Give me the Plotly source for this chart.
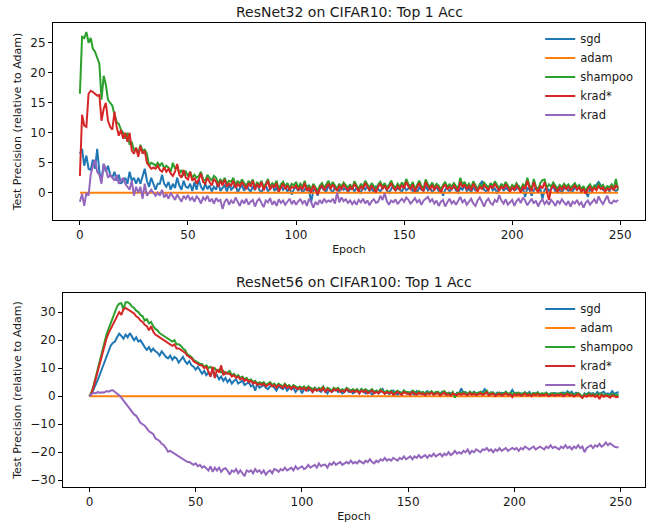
import plotly.graph_objects as go

epochs = list(range(250))

# ---------------- ResNet32 on CIFAR10 ----------------
top_sgd = [
    6.5, 7.3, 4.5, 6.2, 4.0, 3.8, 5.5, 4.0, 7.3, 3.5, 2.0, 4.8, 3.5, 4.5, 3.0, 2.5, 3.5, 2.0, 3.0, 1.5, 2.0, 2.5, 1.5, 3.5, 2.0,
    2.5, 1.5, 2.5, 1.5, 3.0, 4.0, 2.0, 1.0, 2.5, 1.5, 0.5, 1.5, 1.5, 3.0, 1.5, 1.0, 1.8, 0.5, 1.5, 0.8, 2.5, 1.2, 0.5, 2.0, 1.0,
    0.8, 1.5, 0.3, 1.8, 0.5, 2.2, 1.0, 0.4, 1.5, 0.6, 1.2, 0.2, 1.0, 0.5, 1.8, 0.3, 0.8, 1.2, 0.2, 1.4, 0.5, 0.9, 1.6, 0.0, 0.8,
    1.2, 0.3, 1.5, 0.6, 0.2, 1.1, 0.4, 1.6, 0.5, 0.0, 0.9, 1.3, 0.2, 0.7, 1.5, 0.3, 0.8, 0.1, 1.2, 0.5, 1.0, 0.2, 0.8, -0.3, 0.6,
    1.0, 0.3, 0.9, 0.0, 0.5, 1.2, 0.4, -1.5, 0.3, 0.8, -0.5, 0.6, 1.0, 0.4, 0.2, 1.3, 0.5, 0.0, 1.0, 0.6, 0.2, 1.1, 0.5, 0.8, 0.1,
    0.6, 1.0, 0.2, 0.8, 0.4, 0.0, 0.9, 0.5, 1.2, 0.3, 0.7, 0.1, 1.0, 0.5, 0.2, 0.8, 1.1, 0.4, 0.0, 0.6, 1.2, 0.3, 0.8, 0.5, 0.2,
    1.0, 0.4, 0.7, 1.3, 0.2, 0.6, 0.0, 0.9, 0.5, 0.3, 1.2, 0.4, 0.8, 0.1, 0.6, 1.0, 0.3, 0.7, -0.5, 0.5, 0.9, 0.2, 0.6, 1.1, 0.4,
    0.0, 0.8, 0.5, 1.2, 0.3, 0.7, 0.1, 0.9, 0.4, 0.6, 1.0, 2.0, 0.5, 0.2, 0.8, 1.3, 0.4, 0.7, 0.0, 0.6, 1.1, 0.3, 0.8, 0.5, 0.2,
    0.9, 0.4, 0.6, 1.2, 0.3, 0.7, -0.7, 0.8, 0.5, -0.5, 0.4, 1.0, 0.2, 0.7, -1.0, 0.5, 0.9, 0.3, 0.6, 1.1, 0.2, 0.8, 0.4, 0.0, 0.7,
    1.0, 0.3, 0.6, 0.2, 0.9, 0.5, 1.2, 0.1, 0.7, 0.4, -0.7, 0.6, 0.3, 0.9, 1.3, 1.8, 1.2, 0.5, 0.3, 0.8, 0.2, 1.0, 0.5, 0.3, 0.6,
]
top_adam = [0.0] * 250
top_shampoo = [
    16.5, 26.0, 25.8, 26.8, 25.0, 25.8, 24.0, 23.5, 22.5, 21.5, 15.5, 19.5, 18.0, 15.5, 15.0, 14.5, 13.0, 11.8, 11.5, 10.5, 10.0, 9.0, 10.0, 8.0, 8.5,
    7.0, 7.5, 6.5, 8.0, 7.0, 7.2, 6.5, 4.5, 5.0, 4.8, 4.5, 5.0, 4.5, 5.0, 4.0, 4.5, 4.2, 3.5, 5.0, 4.0, 4.5, 3.2, 3.8, 3.0, 3.5,
    2.8, 3.5, 2.5, 3.0, 2.5, 2.8, 3.5, 2.2, 2.0, 3.0, 2.5, 2.0, 2.8, 2.5, 1.5, 2.2, 1.8, 2.5, 1.5, 2.0, 1.8, 2.5, 1.2, 2.0, 1.5,
    2.2, 1.6, 1.0, 2.0, 1.5, 2.2, 0.8, 1.8, 1.2, 2.0, 1.0, 1.5, 2.3, 0.9, 1.6, 1.2, 2.0, 0.5, 1.4, 1.8, 1.0, 1.6, 0.8, 1.5, 1.2,
    1.8, 0.8, 1.5, 1.0, 2.0, 0.6, 1.3, 0.5, 1.5, 1.0, 0.3, 1.2, 1.6, 0.8, 1.4, 2.0, 1.0, 1.8, 1.2, 0.6, 1.5, 1.0, 1.7, 1.2, 0.8,
    1.4, 0.7, 1.9, 1.1, 0.6, 1.5, 1.0, 2.0, 1.3, 0.8, 1.6, 1.1, 0.5, 1.4, 1.8, 1.0, 1.6, 0.9, 1.3, 2.0, 1.2, 0.8, 1.5, 1.0, 1.7,
    1.1, 2.3, 1.4, 1.0, 1.8, 0.6, 1.3, 2.0, 1.1, 0.7, 2.2, 1.4, 1.0, 1.7, 0.8, 1.5, 1.2, 0.5, 1.3, 1.8, 0.9, 1.4, 1.0, 1.6, 1.1,
    0.7, 2.5, 1.3, 1.8, 1.0, 1.5, 0.8, 1.9, 1.2, 0.6, 1.4, 1.0, 1.7, 1.2, 0.8, 1.6, 1.1, 1.9, 1.3, 0.7, 1.5, 1.0, 1.8, 1.2, 0.6,
    1.3, 0.9, 1.6, 1.1, 0.5, 1.4, 1.0, 2.5, 1.2, 0.7, 2.3, 1.0, 0.5, 1.6, 2.1, 2.2, 0.8, 1.4, 1.0, 1.7, 1.1, 0.6, 1.3, 0.9, 1.5,
    1.0, 1.4, 0.8, 1.2, 1.6, 0.9, 1.3, 0.6, 1.1, 0.3, 1.0, 1.4, 0.7, 1.2, 0.8, 1.5, 1.0, 1.3, 0.6, 1.1, 0.9, 1.4, 0.8, 2.3, 0.5,
]
top_kradstar = [
    2.8, 13.0, 11.2, 11.0, 16.5, 17.0, 16.8, 16.5, 16.2, 16.3, 12.0, 14.0, 15.0, 12.0, 11.0, 10.5, 13.5, 11.0, 9.5, 10.5, 9.0, 10.0, 8.5, 10.0, 7.0,
    6.5, 7.5, 6.0, 7.8, 6.5, 7.0, 5.0, 4.5, 4.0, 4.2, 4.0, 4.5, 3.8, 3.5, 4.2, 3.5, 4.0, 3.2, 2.8, 3.5, 4.8, 3.0, 2.5, 3.8, 2.5,
    2.2, 3.5, 2.0, 2.5, 1.5, 2.2, 3.2, 1.8, 1.5, 2.5, 1.8, 1.2, 2.3, 1.8, 1.0, 2.0, 1.2, 2.2, 1.0, 1.5, 1.2, 2.0, 0.8, 1.5, 1.0,
    1.8, 1.2, 0.6, 1.6, 1.0, 2.0, 0.5, 1.5, 0.8, 1.8, 0.4, 1.2, 2.0, 0.5, 1.3, 0.8, 1.6, 0.2, 1.0, 1.5, 0.6, 1.2, 0.4, 1.0, 0.8,
    1.2, 0.4, 1.0, 0.6, 1.6, 0.3, 0.9, 0.0, 1.2, 0.5, -0.3, 0.8, 1.2, 0.4, 1.0, 1.5, 0.6, 1.4, 0.8, 0.3, 1.1, 0.6, 1.3, 0.8, 0.4,
    1.0, 0.5, 1.5, 0.7, 0.2, 1.1, 0.6, 1.6, 0.9, 0.4, 1.2, 0.7, 0.1, 1.0, 1.5, 0.6, 1.2, 0.5, 0.9, 1.6, 0.8, 0.4, 1.1, 0.6, 1.3,
    0.7, 1.8, 1.0, 0.6, 1.4, 0.2, 0.9, 1.6, 0.7, 0.3, 1.8, 1.0, 0.6, 1.3, 0.4, 1.1, 0.8, 0.1, 0.9, 1.4, 0.5, 1.0, 0.6, 1.2, 0.7,
    0.3, 1.8, 0.9, 1.4, 0.6, 1.1, 0.4, 1.5, 0.8, 0.2, 1.0, 0.6, 1.3, 0.8, 0.4, 1.2, 0.7, 1.5, 0.9, 0.3, 1.1, 0.6, 1.4, 0.8, 0.2,
    0.9, 0.5, 1.2, 0.7, 0.1, 1.0, 0.6, 2.0, 0.8, 0.3, 1.8, 0.6, 0.1, 1.2, 0.7, 1.8, 0.4, -1.2, 0.6, 1.3, 0.7, 0.2, 0.9, 0.5, 1.1,
    0.6, 1.0, 0.4, 0.8, 1.2, 0.5, 0.9, 0.2, 0.7, -0.2, 0.6, 1.0, 0.3, 0.8, 0.4, 1.1, 0.6, 0.9, 0.2, 0.7, 0.5, 1.0, 0.4, 1.2, 0.8,
]
top_krad = [
    -1.5, -0.2, -2.2, 0.0, -0.5, 3.0, 4.5, 5.5, 3.5, 3.0, 1.5, 4.8, 4.0, 2.5, 3.0, 2.5, 2.0, 3.0, 1.5, 2.0, 2.5, 1.5, 1.0, 0.5, 2.0,
    -0.5, 1.0, 0.0, 1.0, -1.0, 1.5, -0.5, 0.0, 0.5, 0.0, -0.5, 0.0, -0.5, 0.5, -0.8, -0.2, -1.0, 0.0, -0.6, -1.2, -0.3, -0.8, -1.5, -0.5, -1.0,
    -0.4, -1.2, -0.8, -1.5, -0.6, -1.0, -1.8, -0.8, -1.2, -0.5, -1.5, -1.0, -1.8, -0.9, -1.4, -1.2, -2.7, -1.5, -1.0, -2.0, -1.3, -1.8, -0.8, -1.6, -2.2,
    -1.2, -1.8, -1.0, -2.0, -1.5, -1.2, -2.3, -1.4, -1.0, -1.8, -2.4, -1.3, -1.6, -0.9, -2.0, -1.4, -2.2, -1.1, -1.7, -1.3, -2.0, -1.5, -1.0, -1.9, -1.3,
    -2.0, -1.4, -1.1, -1.8, -1.3, -2.2, -1.0, -1.6, -2.5, -1.5, -2.0, -1.2, -1.8, -1.0, -1.6, -1.3, -1.5, -1.0, -1.8, 0.0, -1.6, -0.8, -1.4, -1.1, -1.7,
    -1.3, -1.9, -1.4, -2.0, -1.2, -1.6, -1.0, -1.8, -1.3, -2.1, -1.4, -1.1, -1.7, -1.5, -0.5, -1.2, -0.1, -1.4, -2.0, -1.3, -1.6, -1.1, -1.9, -1.4, -1.0,
    -1.5, -0.8, -1.2, -1.8, -1.4, -0.9, -1.6, -1.2, -2.0, -1.3, -1.0, -0.7, -1.5, -1.1, -1.8, -1.3, -2.2, -1.5, -1.2, -2.3, -1.6, -1.0, -1.8, -1.4, -2.0,
    -1.3, -0.7, -1.6, -1.2, -2.0, -1.4, -1.0, -1.8, -2.2, -1.3, -0.8, -1.5, -2.3, -1.4, -1.0, -1.7, -2.0, -1.2, -1.6, -0.4, -1.3, -1.8, -1.1, -2.0, -1.5,
    -1.2, -2.2, -1.4, -1.0, -1.7, -0.8, -1.3, -2.1, -1.6, -1.0, -1.8, -1.3, -2.3, -1.5, -1.1, -1.9, -1.4, -2.0, -1.2, -1.6, -2.2, -1.3, -1.8, -1.1, -1.6,
    -2.0, -1.4, -2.3, -1.5, -1.8, -1.2, -2.0, -1.6, -2.5, -1.7, -1.3, -2.0, -1.5, -1.1, -1.8, -0.6, -1.4, -1.9, -1.2, -0.5, -1.6, -1.8, -1.3, -1.5, -1.2,
]

# ---------------- ResNet56 on CIFAR100 ----------------
bot_sgd = [
    0.0, 1.0, 2.5, 4.0, 6.0, 8.0, 10.0, 12.0, 14.5, 16.0, 18.0, 19.0, 19.5, 21.0, 22.3, 21.5, 20.5, 22.0, 21.0, 22.5, 21.0, 20.0, 21.0, 19.5, 20.0,
    18.5, 17.5, 16.5, 17.5, 16.0, 17.0, 16.0, 15.5, 14.5, 16.0, 15.0, 14.0, 13.5, 14.5, 13.0, 14.0, 13.5, 12.0, 13.0, 14.0, 12.5, 11.5, 12.5, 11.0, 10.5,
    9.5, 10.5, 9.0, 8.0, 9.0, 7.5, 8.5, 7.0, 9.5, 7.0, 7.5, 6.0, 7.0, 5.5, 6.5, 5.0, 6.0, 4.5, 5.5, 6.0, 4.5, 5.0, 5.5, 4.0, 4.5,
    5.0, 3.5, 4.0, 2.0, 4.5, 3.0, 3.5, 4.0, 3.0, 2.5, 3.5, 4.0, 3.0, 2.0, 3.5, 3.0, 2.5, 3.5, 2.0, 3.0, 2.5, 3.0, 1.5, 2.5, 3.0,
    1.0, 2.5, 3.0, 2.0, 2.5, 1.5, 3.0, 2.5, 2.0, 1.5, 2.5, 2.0, 1.0, 2.5, 1.5, 2.0, 2.5, 1.5, 2.0, 1.0, 1.5, 2.5, 1.5, 2.0, 1.0,
    1.5, 2.0, 1.0, 2.5, 1.5, 1.0, 2.0, 1.5, 0.5, 1.5, 2.0, 1.0, 1.5, 2.5, 1.0, 1.5, 0.8, 1.2, 2.0, 1.0, 0.5, 1.5, 1.0, 2.0, 1.2,
    0.8, 1.5, 1.0, 0.5, 1.8, 1.0, 1.4, 0.6, 1.2, 1.8, 0.8, 1.3, 0.5, 1.5, 1.0, 0.7, 1.6, 1.1, 0.4, 1.3, 1.0, 0.8, 0.2, 1.2, 0.9,
    2.8, 1.0, 1.5, 0.6, 1.2, 0.9, 1.6, 0.8, 1.3, 1.0, 1.5, 2.5, 1.0, 0.5, 1.4, 1.1, 0.7, 1.3, 0.6, 1.2, 0.9, 1.6, 0.4, 1.0, 2.2,
    0.8, 1.2, 0.5, 1.0, 0.3, 1.3, 0.8, 1.5, 0.6, 1.1, 0.9, 1.4, 0.5, 1.0, 0.7, 1.3, 0.4, 1.0, 0.8, 1.2, 0.6, 1.0, 0.5, 1.3, 0.9,
    1.8, 1.0, 1.6, 0.5, 1.2, 0.8, 0.3, -0.3, 1.0, 0.6, 1.3, 0.8, 1.1, 0.5, 1.5, 0.9, 1.2, 1.6, 0.7, 1.0, 0.6, 1.8, 0.8, 1.3, 1.5,
]
bot_adam = [0.0] * 250
bot_shampoo = [
    0.0, 1.5, 4.0, 7.0, 10.0, 13.5, 16.0, 19.0, 22.0, 24.0, 26.0, 28.0, 30.0, 32.0, 33.0, 33.2, 31.0, 33.5, 33.5, 33.0, 32.0, 31.5, 30.5, 30.0, 29.0,
    28.5, 27.0, 27.5, 26.0, 26.5, 25.0, 24.0, 23.5, 22.5, 22.0, 21.5, 21.0, 20.5, 20.0, 19.5, 20.0, 18.5, 18.5, 18.0, 17.0, 16.5, 15.0, 14.5, 14.0, 13.0,
    12.5, 12.0, 11.5, 11.5, 10.5, 11.0, 10.0, 10.5, 9.5, 10.0, 9.0, 9.5, 8.5, 9.0, 8.0, 8.5, 9.0, 7.5, 8.0, 7.0, 7.5, 6.5, 7.0, 6.0, 6.5,
    5.5, 6.0, 5.0, 5.5, 4.5, 5.0, 4.5, 5.0, 4.0, 4.5, 5.0, 4.0, 4.5, 3.5, 4.5, 4.0, 3.5, 4.5, 3.5, 4.0, 3.0, 4.0, 3.5, 3.0, 3.5,
    3.0, 3.5, 2.5, 3.5, 3.0, 2.5, 3.0, 2.0, 3.0, 2.5, 3.5, 2.0, 3.0, 2.5, 2.0, 3.0, 2.5, 3.0, 2.0, 2.5, 2.0, 3.0, 2.5, 2.0, 2.5,
    2.0, 2.5, 1.5, 2.5, 2.0, 2.5, 1.5, 2.0, 2.5, 1.5, 2.0, 1.5, 2.5, 2.0, 1.0, 2.0, 1.5, 2.0, 1.0, 1.5, 2.0, 1.5, 1.0, 2.0, 1.5,
    1.5, 1.0, 2.0, 1.5, 1.0, 1.8, 1.2, 1.5, 0.8, 1.5, 1.2, 1.8, 1.0, 1.4, 1.6, 0.8, 1.3, 1.8, 1.0, 1.2, 0.6, 1.5, -0.5, 1.0, 1.3,
    1.0, 1.5, 1.2, 0.8, 1.6, 1.0, 1.4, 0.9, 1.2, 1.6, 1.0, 1.3, 2.0, 0.8, 1.2, 1.4, 0.4, 1.0, 1.3, 0.7, 1.1, 1.5, 0.8, 1.2, 0.5,
    1.2, 0.8, 1.3, 0.6, 1.0, 1.4, 0.7, 1.1, 0.5, 1.2, 0.9, 1.3, 0.6, 1.0, 0.8, 1.2, 0.5, 0.9, 1.1, 0.6, 1.0, 0.8, 1.2, 0.5, 0.9,
    1.3, 0.7, 1.0, 0.4, 0.9, 1.2, 0.6, -0.5, 0.8, 0.3, 1.0, 0.5, 0.9, 0.2, 0.8, 0.6, 1.0, 0.3, 0.7, 0.5, 0.2, 0.8, 0.5, 0.3, 0.6,
]
bot_kradstar = [
    0.0, 1.0, 3.5, 6.5, 9.5, 12.5, 15.0, 18.0, 20.5, 22.5, 24.0, 26.0, 27.5, 28.5, 30.0, 29.0, 31.0, 31.5, 31.0, 30.5, 30.0, 29.5, 28.5, 28.0, 27.0,
    26.5, 25.5, 25.0, 23.5, 25.0, 23.0, 22.0, 21.5, 21.0, 20.5, 20.0, 19.5, 19.0, 18.5, 18.0, 18.5, 17.0, 17.0, 16.5, 16.0, 15.5, 14.5, 14.0, 13.5, 12.5,
    12.0, 11.5, 11.0, 11.0, 10.0, 10.5, 9.0, 7.0, 10.5, 6.5, 9.5, 8.5, 11.0, 7.5, 8.5, 8.0, 8.0, 7.0, 7.5, 6.5, 7.0, 6.0, 6.5, 5.5, 6.0,
    5.0, 5.5, 4.5, 5.0, 4.0, 4.5, 4.0, 4.5, 3.5, 4.0, 4.5, 3.5, 4.0, 3.0, 4.0, 3.5, 3.0, 4.0, 3.0, 3.5, 2.5, 3.5, 3.0, 2.5, 3.0,
    2.5, 3.0, 2.0, 3.0, 2.5, 1.5, 2.5, 2.0, 2.5, 2.0, 3.0, 1.5, 2.5, 2.0, 1.5, 2.5, 2.0, 2.5, 1.5, 2.0, 1.5, 2.5, 2.0, 1.5, 2.0,
    1.5, 2.0, 1.0, 2.0, 1.5, 2.0, 1.0, 1.5, 2.0, 1.0, 1.5, 1.0, 2.0, 1.5, 0.8, 1.5, 1.0, 1.5, 0.5, 1.0, 1.5, 1.0, 0.5, 1.5, 1.0,
    1.0, 0.5, 1.5, 1.0, 0.5, 1.2, 0.8, 1.0, 0.3, 1.0, 0.7, 1.3, 0.5, 0.9, 1.1, 0.3, 0.8, 1.3, 0.5, 0.7, 0.2, 1.0, 0.6, 0.4, 0.9,
    0.5, 1.0, 0.7, 0.3, 1.1, 0.5, 0.9, 0.4, 0.7, 1.1, 0.5, 0.8, 1.4, 0.3, 0.7, 0.9, 0.0, 0.6, 0.8, 0.2, 0.6, 1.0, 0.3, 0.7, -0.3,
    0.7, 0.3, 0.8, 0.1, 0.5, 0.9, 0.2, 0.6, 0.0, 0.7, 0.4, 0.8, 0.1, 0.5, 0.3, 0.7, 0.0, 0.4, 0.6, 0.1, 0.5, 0.3, 0.7, 0.0, 0.4,
    0.8, 0.2, 0.5, -0.1, 0.4, 0.7, 0.1, -0.6, 0.3, -0.2, 0.5, 0.0, 0.4, -0.3, 0.3, -1.0, 0.4, -0.2, 0.2, 0.0, -0.5, 0.3, 0.0, -0.4, -0.2,
]
bot_krad = [
    0.0, 0.8, 1.2, 1.0, 1.5, 1.2, 1.4, 1.3, 1.8, 1.6, 2.0, 2.1, 1.5, 1.0, 0.3, -0.5, -1.5, -2.5, -3.5, -4.3, -5.5, -6.5, -7.0, -8.5, -9.5,
    -10.0, -10.5, -11.5, -12.5, -13.0, -13.5, -15.0, -15.5, -16.0, -17.0, -17.5, -18.5, -19.8, -19.5, -20.0, -20.5, -21.0, -21.5, -22.0, -22.5, -23.0, -23.4, -23.5, -24.0, -24.5,
    -24.0, -25.0, -24.5, -25.5, -25.0, -25.6, -26.5, -25.0, -27.0, -25.5, -26.5, -25.5, -27.0, -26.0, -25.7, -26.5, -28.0, -26.5, -27.0, -26.0, -27.5, -26.5, -27.5, -28.5, -26.5,
    -27.0, -26.5, -27.5, -26.0, -27.0, -26.5, -27.5, -26.5, -28.0, -27.0, -26.5, -27.5, -26.0, -26.3, -27.0, -26.0, -26.5, -25.5, -26.5, -26.0, -25.5, -26.5, -25.0, -26.0, -25.5,
    -25.0, -26.0, -25.5, -24.5, -25.5, -25.0, -24.5, -25.5, -24.0, -25.0, -24.5, -24.5, -25.5, -24.0, -24.5, -23.5, -24.5, -24.0, -23.5, -24.5, -24.0, -23.5, -24.0, -23.0, -24.0,
    -23.5, -24.0, -23.0, -23.5, -24.0, -23.0, -23.5, -22.5, -23.5, -24.0, -23.0, -23.5, -22.5, -23.0, -22.0, -23.0, -22.5, -23.0, -22.0, -22.5, -23.0, -22.0, -22.5, -21.5, -22.5,
    -22.0, -21.5, -22.5, -21.5, -22.0, -21.0, -22.0, -21.6, -21.0, -22.0, -21.0, -21.5, -20.5, -21.5, -21.0, -20.5, -21.5, -20.5, -21.0, -20.0, -21.0, -20.5, -19.5, -20.5, -20.0,
    -20.5, -19.5, -20.0, -19.0, -20.5, -19.5, -20.0, -19.0, -19.5, -20.0, -19.0, -19.2, -18.5, -19.5, -19.0, -20.0, -19.0, -19.5, -18.5, -19.5, -19.0, -18.5, -19.5, -19.0, -18.5,
    -19.0, -18.5, -19.5, -18.5, -19.0, -18.0, -18.5, -19.0, -18.5, -18.0, -19.0, -18.5, -18.0, -18.5, -19.0, -18.0, -18.5, -17.5, -18.5, -18.0, -18.5, -19.0, -18.0, -18.5, -17.5,
    -18.5, -18.0, -19.0, -18.0, -18.5, -17.5, -18.5, -18.0, -20.0, -18.5, -18.0, -17.5, -18.5, -17.5, -18.0, -17.0, -18.0, -17.5, -16.5, -17.5, -16.8, -17.5, -18.0, -18.2, -18.2,
]

series_names = ["sgd", "adam", "shampoo", "krad*", "krad"]
colors = ["#1f77b4", "#ff7f0e", "#2ca02c", "#d62728", "#9467bd"]
titles = ["ResNet32 on CIFAR10: Top 1 Acc", "ResNet56 on CIFAR100: Top 1 Acc"]
x_ticks = [0, 50, 100, 150, 200, 250]
top_y_ticks = [0, 5, 10, 15, 20, 25]
bot_y_ticks = [-30, -20, -10, 0, 10, 20, 30]
top_data = [top_sgd, top_adam, top_shampoo, top_kradstar, top_krad]
bot_data = [bot_sgd, bot_adam, bot_shampoo, bot_kradstar, bot_krad]

FONT = "DejaVu Sans"
TXT = "#1a1a1a"
fig = go.Figure()
for name, col, ys in zip(series_names, colors, top_data):
    fig.add_trace(go.Scatter(x=epochs, y=ys, mode="lines", name=name,
                             line=dict(color=col, width=2), xaxis="x", yaxis="y",
                             legend="legend"))
for name, col, ys in zip(series_names, colors, bot_data):
    fig.add_trace(go.Scatter(x=epochs, y=ys, mode="lines", name=name,
                             line=dict(color=col, width=2), xaxis="x2", yaxis="y2",
                             legend="legend2"))

axis_common = dict(showline=True, mirror=True, linecolor="black", linewidth=1,
                   ticks="outside", ticklen=4, tickcolor="black", tickwidth=1,
                   showgrid=False, zeroline=False, automargin=False,
                   tickfont=dict(family=FONT, size=12, color=TXT))
xtitle = dict(text="Epoch", font=dict(family=FONT, size=11, color=TXT), standoff=3)
ytitle = dict(text="Test Precision (relative to Adam)", font=dict(family=FONT, size=11, color=TXT), standoff=6)

fig.update_layout(
    width=653, height=525,
    margin=dict(l=53, r=8, t=23, b=38),
    paper_bgcolor="white", plot_bgcolor="white",
    font=dict(family=FONT, color=TXT),
    xaxis=dict(domain=[0, 1], range=[-12.45, 261.45], anchor="y",
               tickvals=x_ticks, title=xtitle, **axis_common),
    yaxis=dict(domain=[0.5754, 1], range=[-4.55, 28.3], anchor="x",
               tickvals=top_y_ticks, title=ytitle, **axis_common),
    xaxis2=dict(domain=[0.0169, 1], range=[-12.45, 261.45], anchor="y2",
                tickvals=x_ticks, title=xtitle, **axis_common),
    yaxis2=dict(domain=[0, 0.418], range=[-32.4, 36.8], anchor="x2",
                tickvals=bot_y_ticks, title=ytitle, **axis_common),
    legend=dict(x=0.823, y=0.997, xanchor="left", yanchor="top",
                bgcolor="rgba(255,255,255,0)", font=dict(family=FONT, size=11.5, color=TXT),
                itemwidth=30),
    legend2=dict(x=0.823, y=0.415, xanchor="left", yanchor="top",
                 bgcolor="rgba(255,255,255,0)", font=dict(family=FONT, size=11.5, color=TXT),
                 itemwidth=30),
    annotations=[
        dict(text=titles[0], x=0.5, xref="x domain", yref="y domain", y=1.0, yshift=1,
             xanchor="center", yanchor="bottom", showarrow=False,
             font=dict(family=FONT, size=14, color=TXT)),
        dict(text=titles[1], x=0.5, xref="x2 domain", yref="y2 domain", y=1.0, yshift=1,
             xanchor="center", yanchor="bottom", showarrow=False,
             font=dict(family=FONT, size=14, color=TXT)),
    ],
)

fig.write_html("out.html", config={"displayModeBar": False},
               post_script="document.body.style.margin='0px';")
